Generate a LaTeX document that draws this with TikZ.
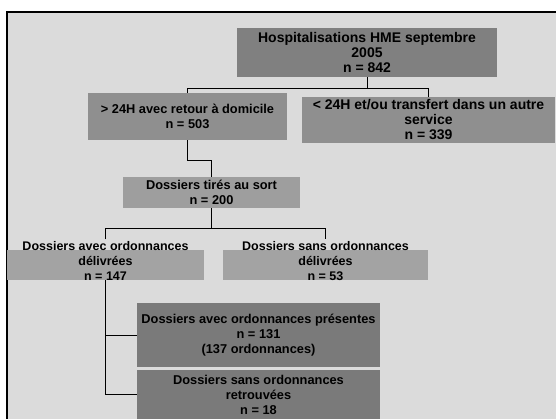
\documentclass[tikz,border=0pt]{standalone}
\usepackage{fontspec}
\setmainfont{Liberation Sans}
\definecolor{bg}{gray}{0.86}
\definecolor{gA}{gray}{0.50}
\definecolor{gB}{gray}{0.56}
\definecolor{gC}{gray}{0.62}
\definecolor{gD}{gray}{0.64}
\definecolor{gE}{gray}{0.48}
\begin{document}
\begin{tikzpicture}[x=1pt,y=-1pt,
  box/.style={fill=#1, inner sep=0pt, align=center,
    font=\bfseries\fontsize{12.8}{15}\selectfont},
  big/.style={font=\bfseries\fontsize{14}{15}\selectfont},
  plain/.style={inner sep=2pt, align=center,
    font=\bfseries\fontsize{12.5}{15}\selectfont},
  conn/.style={draw=black, line width=1pt}]
\useasboundingbox (0,0) rectangle (556,419);
\fill[bg] (7,12) rectangle (556,419);
\draw[line width=1.5pt] (7,419) -- (7,12) -- (556,12);

\node[box=gA, big, minimum width=260pt, minimum height=49pt] (hosp) at (367,52.5)
  {Hospitalisations HME septembre\\2005\\n = 842};
\node[box=gB, minimum width=199pt, minimum height=47pt] (ret) at (187.5,116.5)
  {> 24H avec retour à domicile\\n = 503};
\node[box=gB, big, minimum width=253pt, minimum height=46pt] (tr) at (428.5,120)
  {< 24H et/ou transfert dans un autre\\service\\n = 339};
\node[box=gC, minimum width=177pt, minimum height=31pt] (tir) at (211.5,192.5)
  {Dossiers tirés au sort\\n = 200};

\node[box=gD, minimum width=197pt, minimum height=30pt] (davbox) at (105.5,265) {};
\node[box=gD, minimum width=205pt, minimum height=30pt] (dsvbox) at (325.5,265) {};
\node[plain] (dav) at (105.5,261) {Dossiers avec ordonnances\\délivrées\\n = 147};
\node[plain] (dsv) at (325.5,261) {Dossiers sans ordonnances\\délivrées\\n = 53};

\node[box=gE, minimum width=243pt, minimum height=64pt] (dap) at (258.5,335)
  {Dossiers avec ordonnances présentes\\n = 131\\(137 ordonnances)};
\node[box=gE, minimum width=243pt, minimum height=49pt] (dsr) at (258.5,394.5)
  {Dossiers sans ordonnances\\retrouvées\\n = 18};

\draw[conn] (hosp.south) -- ++(0,11) coordinate (j1);
\draw[conn] (ret.north) |- (j1) -| (tr.north);
\draw[conn] (ret.south) -- ++(0,20) -| (tir.north);
\draw[conn] (tir.south) -- ++(0,20) coordinate (j2);
\draw[conn] (dav.north) |- (j2) -| (dsv.north);
\draw[conn] (davbox.south) |- (dap.west);
\draw[conn] (davbox.south) |- (dsr.west);
\end{tikzpicture}
\end{document}
